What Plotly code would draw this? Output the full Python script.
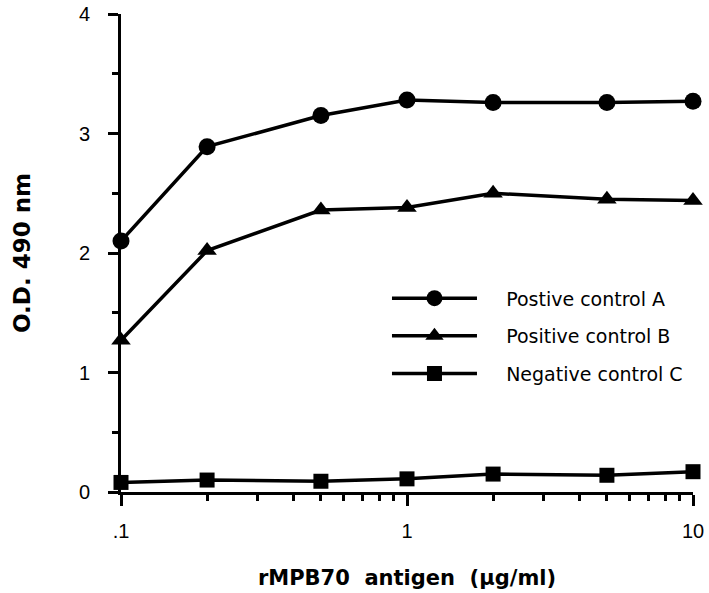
import plotly.graph_objects as go

# Antigen concentration (µg/ml) and O.D. 490 nm readings
concentration = [0.1, 0.2, 0.5, 1, 2, 5, 10]
od_positive_a = [2.10, 2.89, 3.15, 3.28, 3.26, 3.26, 3.27]
od_positive_b = [1.27, 2.02, 2.36, 2.38, 2.50, 2.45, 2.44]
od_negative_c = [0.08, 0.10, 0.09, 0.11, 0.15, 0.14, 0.17]

series_names = ["Postive control A", "Positive control B", "Negative control C"]
x_tick_vals = [0.1, 1, 10]
x_tick_text = [".1", "1", "10"]
x_minor_vals = [0.2, 0.3, 0.4, 0.5, 0.6, 0.7, 0.8, 0.9,
                2, 3, 4, 5, 6, 7, 8, 9]
y_tick_vals = [0, 1, 2, 3, 4]
y_minor_vals = [0.5, 1.5, 2.5, 3.5]

FONT = "Liberation Sans, Arial, sans-serif"
WIDE = "DejaVu Sans, sans-serif"
PAD = "\u00a0" * 4  # gap between legend symbol and label

fig = go.Figure()
for name, values, symbol, size in [
    (series_names[0], od_positive_a, "circle", 17),
    (series_names[1], od_positive_b, "triangle-up", 17),
    (series_names[2], od_negative_c, "square", 15),
]:
    fig.add_trace(go.Scatter(
        x=concentration, y=values, name=PAD + name, legendgroup=name,
        mode="lines+markers",
        line=dict(color="black", width=3.5),
        marker=dict(symbol=symbol, size=size, color="black"),
        cliponaxis=False,
    ))

fig.update_layout(
    width=709, height=593,
    margin=dict(l=121, r=16, t=14, b=101),
    paper_bgcolor="white", plot_bgcolor="white",
    font=dict(family=FONT, color="black"),
    showlegend=True,
    legend=dict(
        x=0.465, y=0.445, xanchor="left", yanchor="top",
        bgcolor="rgba(0,0,0,0)",
        font=dict(size=19, family=WIDE, color="black"),
        itemwidth=85, tracegroupgap=10,
    ),
)

fig.update_xaxes(
    type="log", range=[-1, 1], automargin=False,
    showgrid=False, zeroline=False,
    showline=True, linecolor="black", linewidth=3,
    tickmode="array", tickvals=x_tick_vals, ticktext=x_tick_text,
    ticks="outside", ticklen=11, tickwidth=3, tickcolor="black",
    ticklabelstandoff=8,
    tickfont=dict(size=20, family=FONT),
    minor=dict(tickmode="array", tickvals=x_minor_vals, ticks="outside",
               ticklen=6, tickwidth=3, tickcolor="black", showgrid=False),
    title=dict(text="<b>rMPB70  antigen  (µg/ml)</b>",
               font=dict(size=21, family=WIDE), standoff=30),
)
fig.update_yaxes(
    range=[0, 4], automargin=False,
    showgrid=False, zeroline=False,
    showline=True, linecolor="black", linewidth=3,
    tickmode="array", tickvals=y_tick_vals,
    ticks="outside", ticklen=10, tickwidth=3, tickcolor="black",
    ticklabelstandoff=14,
    tickfont=dict(size=20, family=FONT),
    minor=dict(tickmode="array", tickvals=y_minor_vals, ticks="outside",
               ticklen=6, tickwidth=3, tickcolor="black", showgrid=False),
    title=dict(text="<b>O.D. 490 nm</b>",
               font=dict(size=23, family=WIDE), standoff=42),
)

fig.write_html("out.html")
